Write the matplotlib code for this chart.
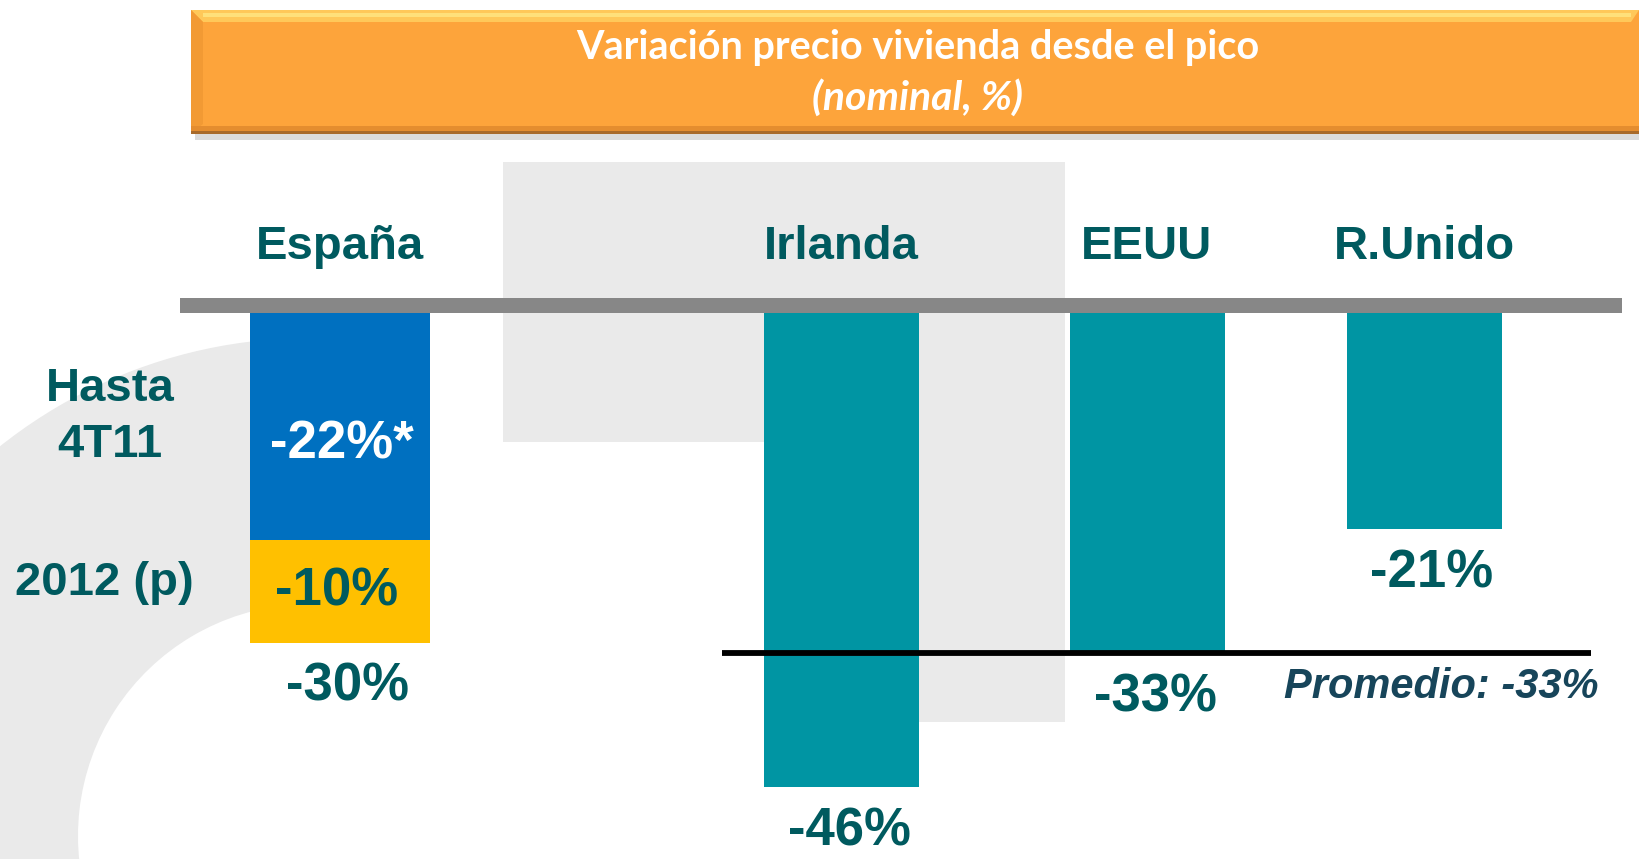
import matplotlib
matplotlib.use("Agg")
import matplotlib.pyplot as plt
from matplotlib.patches import Rectangle, Wedge, Polygon

plt.rcParams['font.family'] = ['Liberation Sans', 'DejaVu Sans']

# datos: caída del precio de la vivienda desde el pico (%)
paises = ["España", "Irlanda", "EEUU", "R.Unido"]
caida = [-30, -46, -33, -21]
espana_hasta_4t11 = -22
espana_2012 = -10
etiquetas = ["-30%", "-46%", "-33%", "-21%"]
promedio = -33
titulo = "Variación precio vivienda desde el pico"
subtitulo = "(nominal, %)"

# colores
TEAL = "#0095A3"
TEAL_TXT = "#005A5F"
AZUL = "#0070C0"
AMARILLO = "#FFC000"
GRIS_CLARO = "#EAEAEA"
GRIS_LINEA = "#878787"
NARANJA = "#FDA43B"

W, H = 1639, 859
fig = plt.figure(figsize=(W / 100, H / 100), dpi=100)

# fondo decorativo en coordenadas de píxel
bg = fig.add_axes([0, 0, 1, 1])
bg.set_xlim(0, W)
bg.set_ylim(H, 0)
bg.axis("off")

bg.add_patch(Wedge((310, 836), 498, 160, 266, width=266, color=GRIS_CLARO, lw=0))
bg.add_patch(Rectangle((503, 162), 562, 280, color=GRIS_CLARO, lw=0))
bg.add_patch(Rectangle((764, 442), 301, 280, color=GRIS_CLARO, lw=0))

# cabecera naranja con bisel
bg.add_patch(Rectangle((195, 16), W - 195, 124, color="#9a9a9a", alpha=0.35, lw=0))
bg.add_patch(Rectangle((191, 10), W - 191, 123, color=NARANJA, lw=0))
bg.add_patch(Polygon([(191, 10), (W, 10), (W - 8, 22), (203, 22)], closed=True,
                     color="#FFC859", lw=0))
bg.add_patch(Rectangle((203, 13), W - 211, 4, color="#FFE07A", lw=0))
bg.add_patch(Polygon([(191, 10), (203, 22), (203, 124), (191, 133)], closed=True,
                     color="#F29A34", lw=0))
bg.add_patch(Rectangle((191, 126), W - 191, 7, color="#E48D2F", lw=0))
bg.add_patch(Rectangle((191, 131), W - 191, 2.5, color="#A86A2A", lw=0))
bg.text(918, 48, titulo, ha="center", va="center", color="white",
        fontsize=28.5, fontweight="bold", family="Lato")
bg.text(918, 98, subtitulo, ha="center", va="center", color="white",
        fontsize=29.5, fontweight="bold", fontstyle="italic", family="Lato")

# gráfico de barras: cero a 313 px desde arriba, 10.3 px por punto
px_cero, px_por_pto = 313, 10.3
ax = fig.add_axes([0, 0, 1, 1], zorder=2)
ax.patch.set_alpha(0)
ax.set_xlim(0, W)
ax.set_ylim(-(H - px_cero) / px_por_pto, px_cero / px_por_pto)
ax.axis("off")

bar_x = [340, 841.5, 1147, 1424]
bar_w = [180, 155, 155, 155]

ax.axhspan(0, 1.42, xmin=180 / W, xmax=1622 / W, color=GRIS_LINEA, lw=0)

# España apilada: hasta 4T11 + previsión 2012
ax.bar(bar_x[0], espana_hasta_4t11, bar_w[0], color=AZUL)
ax.bar(bar_x[0], espana_2012, bar_w[0], bottom=espana_hasta_4t11, color=AMARILLO)
ax.bar(bar_x[1:], caida[1:], bar_w[1:], color=TEAL)

ax.plot([722, 1591], [promedio, promedio], color="black", lw=4.2, solid_capstyle="butt")
ax.text(1599, promedio - 3.3, f"Promedio: {promedio}%", ha="right", va="center",
        fontsize=30, fontweight="bold", fontstyle="italic", color="#17455A")

for x, nombre in zip(bar_x, paises):
    ax.text(x, 5.2, nombre, ha="center", va="baseline", fontsize=34,
            fontweight="bold", color=TEAL_TXT)

fondo = [espana_hasta_4t11 + espana_2012] + caida[1:]
for x, y, txt in zip(bar_x, fondo, etiquetas):
    ax.text(x + 8, y - 4.3, txt, ha="center", va="center", fontsize=38,
            fontweight="bold", color=TEAL_TXT)

ax.text(bar_x[0] + 2, espana_hasta_4t11 / 2 - 1.8, f"{espana_hasta_4t11}%*", ha="center",
        va="center", fontsize=38, fontweight="bold", color="white")
ax.text(bar_x[0] - 3, espana_hasta_4t11 + espana_2012 / 2, f"{espana_2012}%", ha="center",
        va="center", fontsize=38, fontweight="bold", color=TEAL_TXT)

ax.text(110, espana_hasta_4t11 / 2 + 0.9, "Hasta\n4T11", ha="center", va="center",
        fontsize=34, fontweight="bold", color=TEAL_TXT, linespacing=1.35)
ax.text(104, espana_hasta_4t11 + espana_2012 / 2 + 0.8, "2012 (p)", ha="center",
        va="center", fontsize=34, fontweight="bold", color=TEAL_TXT)

fig.savefig("out.png", dpi=100)
